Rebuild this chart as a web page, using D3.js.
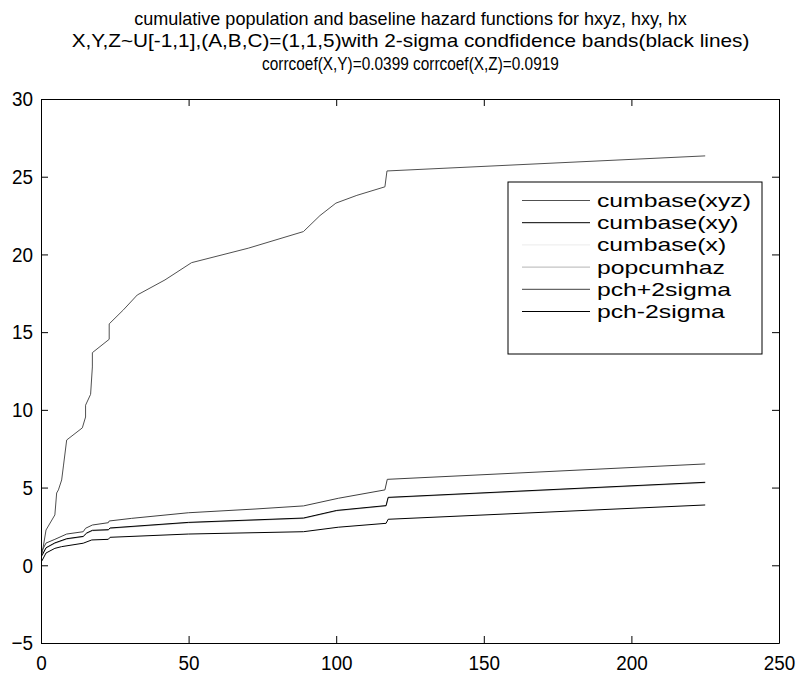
<!DOCTYPE html>
<html><head><meta charset="utf-8">
<script src="https://cdn.jsdelivr.net/npm/d3@7"></script>
<style>
body{margin:0;background:#fff;}
text{font-family:"Liberation Sans",Arial,Helvetica,sans-serif;}
</style></head>
<body>
<svg id="chart" width="804" height="675"></svg>
<script>
const titleLines = [
  "cumulative population and baseline hazard functions for hxyz, hxy, hx",
  "X,Y,Z~U[-1,1],(A,B,C)=(1,1,5)with 2-sigma condfidence bands(black lines)",
  "corrcoef(X,Y)=0.0399 corrcoef(X,Z)=0.0919"
];
const xTicks = [0, 50, 100, 150, 200, 250];
const yTicks = [-5, 0, 5, 10, 15, 20, 25, 30];
const seriesNames = ["cumbase(xyz)", "cumbase(xy)", "cumbase(x)", "popcumhaz", "pch+2sigma", "pch-2sigma"];
const seriesColors = ["#505050", "#000000", "#ebebeb", "#b4b4b4", "#404040", "#000000"];

const cumbaseXYZ = [[0.3,0.66],[1.7,2.27],[4.7,3.24],[5.3,4.65],[5.9,4.85],[7.0,5.49],[7.6,6.39],[8.7,8.06],[14.0,8.84],[15.1,9.54],[15.1,10.3],[16.8,11.0],[17.4,12.76],[17.4,13.68],[23.1,14.54],[23.1,15.53],[27.9,16.43],[32.6,17.39],[42.0,18.36],[51.0,19.47],[70.2,20.4],[88.9,21.47],[94.5,22.5],[99.9,23.3],[107,23.8],[116.5,24.35],[117.2,25.37],[225,26.34]];
const cumbaseXY = [[0.3,0.62],[1.7,1.13],[4.7,1.44],[8.7,1.71],[14.3,1.86],[15.5,2.08],[17.4,2.25],[22.8,2.29],[23.4,2.4],[49.9,2.76],[88.9,3.04],[100.2,3.53],[116.9,3.84],[117.6,4.37],[225,5.34]];
const cumbaseX = [[0.3,0.58],[1.7,1.09],[4.7,1.4],[8.7,1.67],[14.3,1.82],[15.5,2.04],[17.4,2.21],[22.8,2.25],[23.4,2.36],[49.9,2.72],[88.9,3.0],[100.2,3.49],[116.9,3.8],[117.6,4.33],[225,5.28]];
const popcumhaz = [[0.3,0.6],[1.7,1.11],[4.7,1.42],[8.7,1.69],[14.3,1.84],[15.5,2.06],[17.4,2.23],[22.8,2.27],[23.4,2.38],[49.9,2.74],[88.9,3.02],[100.2,3.51],[116.9,3.82],[117.6,4.35],[225,5.32]];
const pchPlus = [[0.3,0.92],[1.7,1.43],[4.7,1.67],[8.7,2.01],[14.3,2.16],[15.1,2.38],[17.4,2.59],[22.8,2.74],[23.1,2.85],[30.7,3.02],[49.9,3.38],[72.5,3.62],[88.9,3.82],[100.7,4.31],[116.5,4.85],[117.3,5.53],[225,6.52]];
const pchMinus = [[0.3,0.28],[1.7,0.79],[4.7,1.09],[7.0,1.2],[14.3,1.42],[17.2,1.63],[22.8,1.67],[23.4,1.8],[49.9,2.01],[88.9,2.16],[100.7,2.45],[116.9,2.7],[117.6,2.96],[225,3.88]];

const seriesData = [cumbaseXYZ, cumbaseXY, cumbaseX, popcumhaz, pchPlus, pchMinus];

const svg = d3.select("#chart");
const L = 41, R = 779, T = 99, B = 643;
const x = d3.scaleLinear().domain([0, 250]).range([L, R]);
const y = d3.scaleLinear().domain([-5, 30]).range([B, T]);

// horizontally fit a text element to a target width around an anchor x
function fitWidth(sel, cx, target){
  const w = sel.node().getComputedTextLength();
  const s = target / w;
  sel.attr("transform", `translate(${cx},0) scale(${s},1) translate(${-cx},0)`);
}

// titles
const titleWidths = [553, 678, 297];
titleLines.forEach((t,i)=>{
  const cx = 410.5;
  const el = svg.append("text").attr("class","title")
    .attr("x", cx).attr("y", 25 + i*22.5)
    .attr("text-anchor","middle").attr("font-size",18).attr("fill","#000")
    .text(t);
  fitWidth(el, cx, titleWidths[i]);
});

// lines
const line = d3.line().x(d=>x(d[0])).y(d=>y(d[1]));
const drawOrder = [2, 3, 1, 0, 4, 5];
drawOrder.forEach(i=>{
  svg.append("path").datum(seriesData[i])
    .attr("d", line).attr("fill","none")
    .attr("stroke", seriesColors[i]).attr("stroke-width", 1);
});

// axes with inward ticks, mirrored box
const tl = 7, sx = 0.9;
const gB = svg.append("g").attr("transform",`translate(0,${B})`)
  .call(d3.axisBottom(x).tickValues(xTicks).tickSizeInner(-tl).tickSizeOuter(0).tickPadding(12));
const gT = svg.append("g").attr("transform",`translate(0,${T})`)
  .call(d3.axisTop(x).tickValues(xTicks).tickSizeInner(-tl).tickSizeOuter(0).tickFormat(""));
const gL = svg.append("g").attr("transform",`translate(${L},0)`)
  .call(d3.axisLeft(y).tickValues(yTicks).tickSizeInner(-tl).tickSizeOuter(0).tickPadding(8));
const gR = svg.append("g").attr("transform",`translate(${R},0)`)
  .call(d3.axisRight(y).tickValues(yTicks).tickSizeInner(-tl).tickSizeOuter(0).tickFormat(""));
[gB,gT,gL,gR].forEach(g=>{
  g.selectAll("path.domain").attr("stroke","#000").attr("stroke-width",1);
  g.selectAll(".tick line").attr("stroke","#000");
  g.selectAll(".tick text").attr("font-size",21).attr("fill","#000")
    .attr("font-family","Liberation Sans, Arial, sans-serif");
});
gB.selectAll(".tick text").attr("transform",`scale(${sx},1)`);
gL.selectAll(".tick text").attr("x", -8/sx).attr("transform",`scale(${sx},1)`);

// legend
const lgX = 508, lgY = 182, lgW = 254, lgH = 172;
svg.append("rect").attr("x",lgX).attr("y",lgY).attr("width",lgW).attr("height",lgH)
  .attr("fill","#fff").attr("stroke","#000").attr("stroke-width",1);
let legendScale = null;
seriesNames.forEach((n,i)=>{
  const yy = 200.5 + i*22.2;
  svg.append("line").attr("x1",522).attr("x2",590).attr("y1",yy).attr("y2",yy)
    .attr("stroke",seriesColors[i]).attr("stroke-width",1);
  const el = svg.append("text").attr("x",597).attr("y",yy+6.5).attr("font-size",18).attr("fill","#000").text(n);
  if (legendScale === null) legendScale = 154 / el.node().getComputedTextLength();
  el.attr("transform", `translate(597,0) scale(${legendScale},1) translate(-597,0)`);
});
</script>
</body></html>
